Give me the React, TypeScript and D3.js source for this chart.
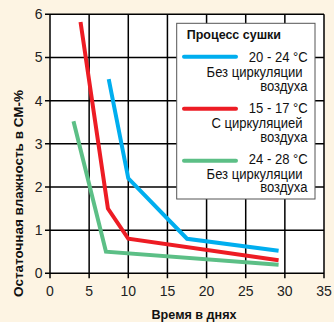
import React from "react";
import * as d3 from "d3";

const W = 334;
const H = 322;

const xTicks = [0, 5, 10, 15, 20, 25, 30, 35];
const yTicks = [0, 1, 2, 3, 4, 5, 6];

const blueX = [7.5, 10, 17.5, 29.2];
const blueY = [4.5, 2.2, 0.8, 0.52];
const redX = [3.9, 7.4, 10, 29.2];
const redY = [5.82, 1.5, 0.8, 0.3];
const greenX = [3.0, 7.15, 29.2];
const greenY = [3.52, 0.5, 0.2];

const legendTitle = "Процесс сушки";
const legendTemps = ["20 - 24 °C", "15 - 17 °C", "24 - 28 °C"];
const legendLine2 = ["Без циркуляции", "С циркуляцией", "Без циркуляции"];
const legendLine3 = ["воздуха", "воздуха", "воздуха"];
const colors = ["#00aeef", "#ed1c24", "#5cbf86"];

const xLabel = "Время в днях";
const yLabel = "Остаточная влажность в СМ-%";

const narrow = "'Liberation Sans Narrow', 'Arial Narrow', 'Liberation Sans', Arial, sans-serif";
const sans = "'Liberation Sans', Arial, sans-serif";

function Narrow(props: { x: number; y: number; text: string }) {
  const { x, y, text } = props;
  return (
    <text
      x={x}
      y={y}
      textAnchor="end"
      fontFamily={sans}
      fontSize={14.5}
      fill="#111"
      transform={`translate(${x},0) scale(0.9,1) translate(${-x},0)`}
    >
      {text}
    </text>
  );
}

export default function App() {
  const x = d3.scaleLinear().domain([0, 35]).range([50, 324]);
  const y = d3.scaleLinear().domain([0, 6]).range([273.3, 14.3]);
  const line = d3
    .line<[number, number]>()
    .x((d) => x(d[0]))
    .y((d) => y(d[1]));
  const series = [
    blueX.map((v, i) => [v, blueY[i]] as [number, number]),
    redX.map((v, i) => [v, redY[i]] as [number, number]),
    greenX.map((v, i) => [v, greenY[i]] as [number, number]),
  ];
  const lx = 176.7, ly = 23.3, lw = 138.3, lh = 175.7;
  return (
    <div style={{ position: "fixed", left: 0, top: 0, width: W, height: H }}>
      <svg width={W} height={H} style={{ display: "block" }}>
        <rect x={0} y={0} width={W} height={H} fill="#fdf4e3" />
        <rect x={x(0)} y={y(6)} width={x(35) - x(0)} height={y(0) - y(6)} fill="#ffffff" />
        {xTicks.map((t) => (
          <line key={"gx" + t} x1={x(t)} x2={x(t)} y1={y(6)} y2={y(0) + 5} stroke="#000" strokeWidth={1.5} />
        ))}
        {yTicks.map((t) => (
          <line key={"gy" + t} x1={x(0) - 5} x2={x(35)} y1={y(t)} y2={y(t)} stroke="#000" strokeWidth={1.5} />
        ))}
        {series.map((s, i) => (
          <path key={"s" + i} d={line(s) || ""} fill="none" stroke={colors[i]} strokeWidth={4} strokeLinejoin="miter" />
        ))}
        {xTicks.map((t) => (
          <text key={"tx" + t} x={x(t)} y={296} textAnchor="middle" fontFamily={sans} fontSize={14} fill="#222">
            {t}
          </text>
        ))}
        {yTicks.map((t) => (
          <text key={"ty" + t} x={42.5} y={y(t) + 5} textAnchor="end" fontFamily={sans} fontSize={14} fill="#222">
            {t}
          </text>
        ))}
        <text x={194} y={319} textAnchor="middle" fontFamily={narrow} fontWeight="bold" fontSize={12.5} fill="#111" textLength={85} lengthAdjust="spacingAndGlyphs">
          {xLabel}
        </text>
        <text transform="translate(23,193.5) rotate(-90)" textAnchor="middle" fontFamily={narrow} fontWeight="bold" fontSize={12.5} fill="#111" textLength={207} lengthAdjust="spacingAndGlyphs">
          {yLabel}
        </text>
        <rect x={lx} y={ly} width={lw} height={lh} fill="#ffffff" stroke="#555" strokeWidth={1} />
        <text x={186.7} y={39} fontFamily={narrow} fontWeight="bold" fontSize={12.5} fill="#111">
          {legendTitle}
        </text>
        {legendTemps.map((t, i) => {
          const ly0 = 56.7 + i * 52;
          const tb = 62.3 + i * 50.8;
          return (
            <g key={"lg" + i}>
              <line x1={184} x2={236} y1={ly0} y2={ly0} stroke={colors[i]} strokeWidth={4} strokeLinecap="round" />
              <Narrow x={307.7} y={tb} text={t} />
              <Narrow x={302.5} y={tb + 15.2} text={legendLine2[i]} />
              <Narrow x={307.5} y={tb + 28.6} text={legendLine3[i]} />
            </g>
          );
        })}
      </svg>
    </div>
  );
}
